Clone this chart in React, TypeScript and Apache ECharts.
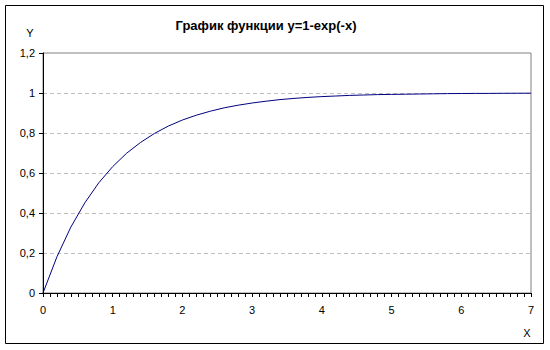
import React, { useEffect, useRef } from "react";
import * as echarts from "echarts";

const titleText = "График функции y=1-exp(-x)";
const xValues = [
  0, 0.2, 0.4, 0.6, 0.8, 1.0, 1.2, 1.4, 1.6, 1.8, 2.0, 2.2, 2.4, 2.6, 2.8, 3.0, 3.2, 3.4,
  3.6, 3.8, 4.0, 4.2, 4.4, 4.6, 4.8, 5.0, 5.2, 5.4, 5.6, 5.8, 6.0, 6.2, 6.4, 6.6, 6.8, 7.0,
];
const yValues = [
  0, 0.181, 0.33, 0.451, 0.551, 0.632, 0.699, 0.753, 0.798, 0.835, 0.865, 0.889, 0.909,
  0.926, 0.939, 0.95, 0.959, 0.967, 0.973, 0.978, 0.982, 0.985, 0.988, 0.99, 0.992, 0.993,
  0.994, 0.995, 0.996, 0.997, 0.9975, 0.998, 0.998, 0.9986, 0.9989, 0.9991,
];
const xAxisName = "X";
const yAxisName = "Y";

const FONT = "'Liberation Sans', Arial, sans-serif";

export default function App() {
  const ref = useRef<HTMLDivElement>(null);
  useEffect(() => {
    if (!ref.current) return;
    const chart = echarts.init(ref.current, undefined, { renderer: "svg" });
    const data = xValues.map((x, i) => [x, yValues[i]]);
    chart.setOption({
      animation: false,
      backgroundColor: "#ffffff",
      textStyle: { fontFamily: FONT },
      grid: {
        left: 43,
        top: 53,
        right: 19,
        bottom: 57,
        show: true,
        borderColor: "#808080",
        borderWidth: 1,
      },
      xAxis: {
        type: "value",
        min: 0,
        max: 7,
        interval: 1,
        axisLine: { show: true, onZero: false, lineStyle: { color: "#000", width: 1 } },
        axisTick: { show: true, length: 4, lineStyle: { color: "#000" } },
        minorTick: { show: true, splitNumber: 10, length: 4, lineStyle: { color: "#000" } },
        splitLine: { show: false },
        axisLabel: { color: "#000", fontSize: 11, fontFamily: FONT, margin: 11 },
      },
      yAxis: {
        type: "value",
        min: 0,
        max: 1.2,
        interval: 0.2,
        axisLine: { show: true, lineStyle: { color: "#000", width: 1 } },
        axisTick: { show: true, length: 4, lineStyle: { color: "#000" } },
        splitLine: {
          show: true,
          lineStyle: { color: "#c0c0c0", type: [4, 3], width: 1 },
        },
        axisLabel: {
          color: "#000",
          fontSize: 11,
          fontFamily: FONT,
          margin: 8,
          formatter: (v: number) => String(Number(v.toFixed(1))).replace(".", ","),
        },
      },
      series: [
        {
          type: "line",
          data,
          showSymbol: false,
          symbol: "none",
          lineStyle: { color: "#000080", width: 1 },
          itemStyle: { color: "#000080" },
        },
      ],
      graphic: [
        {
          type: "rect",
          shape: { x: 5.5, y: 5.5, width: 538, height: 338 },
          style: { fill: "none", stroke: "#000", lineWidth: 1 },
          silent: true,
        },
        {
          type: "text",
          x: 266,
          y: 25,
          style: {
            text: titleText,
            fill: "#000",
            font: `bold 13px ${FONT}`,
            textAlign: "center",
            textVerticalAlign: "middle",
          },
        },
        {
          type: "text",
          x: 30,
          y: 33,
          style: {
            text: yAxisName,
            fill: "#000",
            font: `11px ${FONT}`,
            textAlign: "center",
            textVerticalAlign: "middle",
          },
        },
        {
          type: "text",
          x: 527,
          y: 333,
          style: {
            text: xAxisName,
            fill: "#000",
            font: `11px ${FONT}`,
            textAlign: "center",
            textVerticalAlign: "middle",
          },
        },
      ],
    });
    return () => chart.dispose();
  }, []);
  return (
    <div
      ref={ref}
      style={{ position: "fixed", left: 0, top: 0, width: 550, height: 350 }}
    />
  );
}
